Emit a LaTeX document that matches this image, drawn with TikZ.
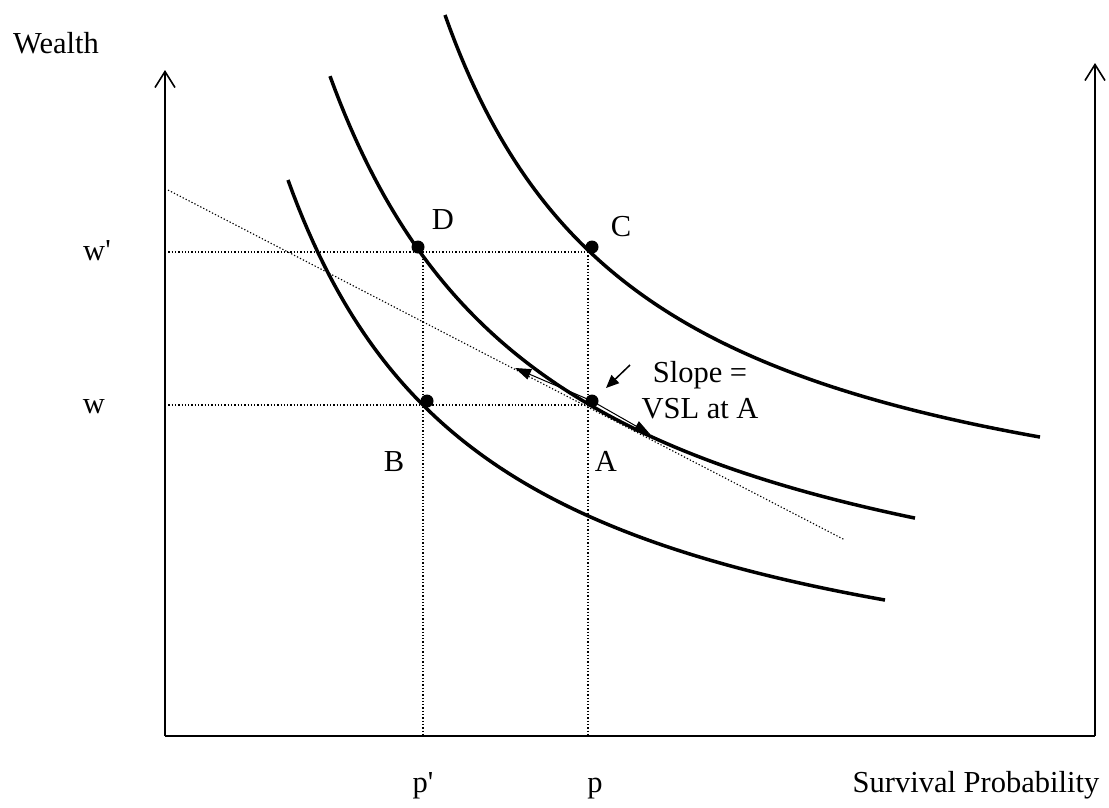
\documentclass[tikz,border=0pt]{standalone}
\usepackage{fontspec}
\setmainfont{Liberation Serif}
\usetikzlibrary{arrows.meta}

\tikzset{
  axis/.style={line width=1.8pt, -{Straight Barb[length=16pt,width=20pt,line width=1.6pt]}},
  curve/.style={line width=3.5pt},
  guide/.style={line width=1.3pt, dash pattern=on 1.3pt off 2pt},
  dotpt/.style={circle, fill=black, inner sep=0pt, minimum size=13pt},
  lbl/.style={font=\fontsize{30.5}{36}\selectfont, inner sep=0pt, anchor=base},
  tangarrow/.style={line width=1pt, -{Triangle[length=16pt,width=11pt]}}
}

\begin{document}
\begin{tikzpicture}[x=1pt, y=-1pt]
\useasboundingbox (0,0) rectangle (1109,807);

% axes
\coordinate (O) at (165,736);
\coordinate (R) at (1095,736);
\draw[axis] (O) -- (165,70);
\draw[axis] (R) -- (1095,63);
\draw[line width=1.8pt] (O) -- (R);

% guide lines
\coordinate (w1) at (165,252);
\coordinate (w0) at (165,405);
\coordinate (pp) at (423,736);
\coordinate (p) at (588,736);
\draw[guide] (w1) -- (588,252);
\draw[guide] (w0) -- (588,405);
\draw[guide] (423,252) -- (pp);
\draw[guide] (588,252) -- (p);

% tangent at A
\coordinate (t1) at (168,190);
\coordinate (t2) at (845,540);
\draw[guide, line width=1.1pt] (t1) -- (t2);

% indifference curves
\draw[curve] plot[domain=288:885, samples=120] (\x, {742.5 - 1139.06/(\x-85.5)*100});
\draw[curve] plot[domain=330:915, samples=120] (\x, {685.8 - 1353.46/(\x-108)*100});
\draw[curve] plot[domain=445:1040, samples=120] (\x, {578.9 - 1127.79/(\x-245)*100});

% points
\node[dotpt] (A) at (592,401) {};
\node[dotpt] (B) at (427,401) {};
\node[dotpt] (C) at (592,247) {};
\node[dotpt] (D) at (418,247) {};

% arrows along the tangent
\coordinate (a1) at (515,368);
\coordinate (a2) at (650,434);
\draw[tangarrow] (A.center) -- (a1);
\draw[tangarrow] (A.center) -- (a2);

% labels
\node[lbl] (wealth) at (56,53) {Wealth};
\node[lbl] (wlab1) at (97,260) {w\textquotesingle};
\node[lbl] (wlab0) at (94,413) {w};
\node[lbl] (plab1) at (423,792) {p\textquotesingle};
\node[lbl] (plab0) at (595,792) {p};
\node[lbl] (surv) at (976,792) {Survival Probability};
\node[lbl] (Dlab) at (443,229) {D};
\node[lbl] (Clab) at (621,236) {C};
\node[lbl] (Blab) at (394,471) {B};
\node[lbl] (Alab) at (606,471) {A};
\node[lbl, anchor=center, align=center] (slope) at (700,390) {Slope =\\VSL at A};

% pointer to A
\coordinate (s1) at (630,365);
\coordinate (s2) at (606,388);
\draw[line width=1.5pt, -{Triangle[length=13pt,width=11pt]}] (s1) -- (s2);
\end{tikzpicture}
\end{document}
